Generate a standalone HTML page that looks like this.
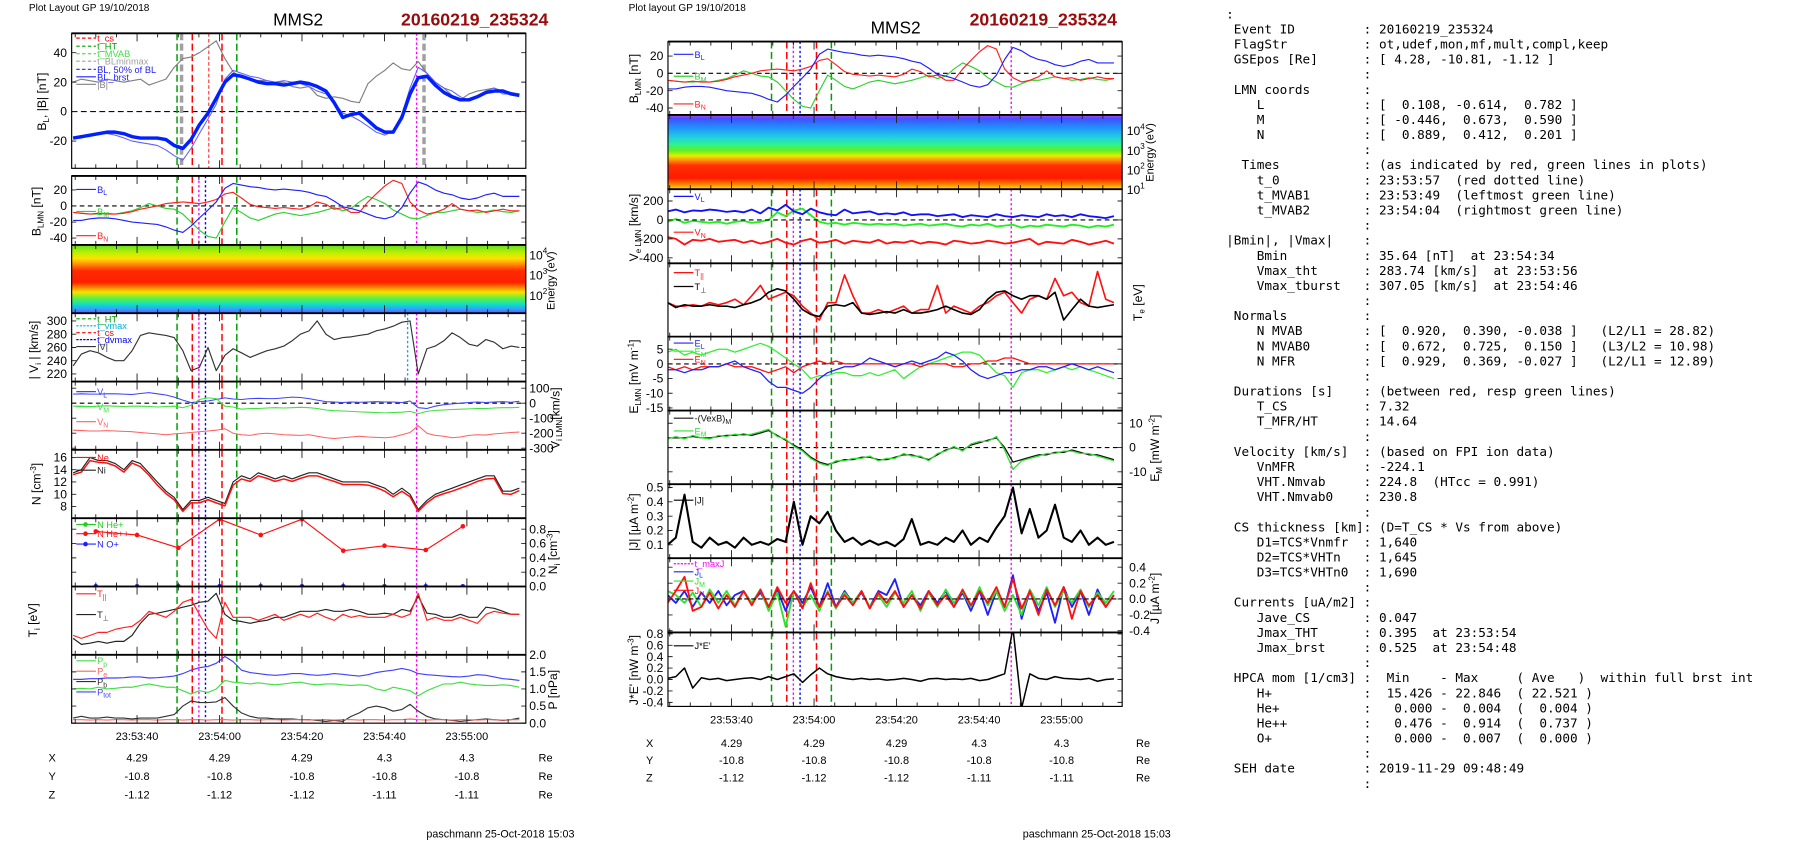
<!DOCTYPE html>
<html><head><meta charset="utf-8">
<style>html,body{margin:0;padding:0;background:#fff;overflow:hidden}svg{display:block}</style>
</head><body>
<svg id="fig" xmlns="http://www.w3.org/2000/svg" width="1804" height="841" viewBox="0 0 1561 728" preserveAspectRatio="none" font-family="'Liberation Sans', sans-serif">
<defs>
<linearGradient id="gradIon" x1="0" y1="0" x2="0" y2="1">
<stop offset="0" stop-color="#60e020"/><stop offset="0.12" stop-color="#c0f000"/><stop offset="0.2" stop-color="#ffe000"/><stop offset="0.28" stop-color="#ff9000"/><stop offset="0.38" stop-color="#ff2a00"/><stop offset="0.55" stop-color="#ff2000"/><stop offset="0.62" stop-color="#ff8000"/><stop offset="0.69" stop-color="#ffe000"/><stop offset="0.78" stop-color="#60f040"/><stop offset="0.87" stop-color="#10e0c0"/><stop offset="0.94" stop-color="#30a0ff"/><stop offset="1" stop-color="#7050ff"/>
</linearGradient>
<linearGradient id="gradEle" x1="0" y1="0" x2="0" y2="1">
<stop offset="0" stop-color="#c040f0"/><stop offset="0.05" stop-color="#4050ff"/><stop offset="0.17" stop-color="#2090ff"/><stop offset="0.3" stop-color="#20d0e0"/><stop offset="0.4" stop-color="#30f090"/><stop offset="0.48" stop-color="#60f020"/><stop offset="0.55" stop-color="#e0f000"/><stop offset="0.6" stop-color="#ffa000"/><stop offset="0.68" stop-color="#ff3000"/><stop offset="0.85" stop-color="#ff1a00"/><stop offset="0.93" stop-color="#ff8000"/><stop offset="1" stop-color="#ffe000"/>
</linearGradient>
</defs>
<g id="left"></g>
<g id="mid"></g>
<g id="info"></g>
</svg>
<script>
// ---------- shared time grid (seconds after 23:53:00) ----------
const tL = [24.5,26.5,28.6,30.6,32.7,34.7,36.8,38.8,40.8,42.9,44.9,47.0,49.0,51.1,53.1,55.1,57.2,59.2,61.3,63.3,65.3,67.4,69.4,71.5,73.5,75.6,77.6,79.6,81.7,83.7,85.8,87.8,89.9,91.9,93.9,96.0,98.0,100.1,102.1,104.2,106.2,108.2,110.3,112.3,114.4,116.4,118.4,120.5,122.5,124.6,126.6,128.7,130.7,132.7];
// event times
const tGreen = [49.7, 64.2];
const tRed = [53.4, 60.6];
const tMag = [55.0, 107.8];
const tBlue = [56.6];
const tGray = [50.8, 109.6];
const tCyan = [105.6];
const tCs0 = [57.4];
// x axis
const xTickTimes = [40, 60, 80, 100, 120];
const xTickLabels = ['23:53:40','23:54:00','23:54:20','23:54:40','23:55:00'];
const posX = ['4.29','4.29','4.29','4.3','4.3'];
const posY = ['-10.8','-10.8','-10.8','-10.8','-10.8'];
const posZ = ['-1.12','-1.12','-1.12','-1.11','-1.11'];
// left column series
const bLsmooth = [-18,-17,-16,-15,-14,-14,-15,-17,-18,-18,-18,-19,-23,-25,-19,-9,-1,9,20,25,24,22,20,19,19,18,19,20,19,17,14,6,-4,-2,-1,-6,-11,-14,-14,-4,12,23,24,18,13,10,8,8,10,13,14,14,12,11];
const bMag = [20,22,21,20,22,21,20,21,22,18,20,22,30,36,37,40,44,48,36,27,23,22,21,21,20,20,17,16,17,11,9,10,9,7,6,19,24,28,33,29,28,34,26,20,16,11,8,12,14,15,16,14,13,12];
const bL = [-18,-18,-16,-15,-15,-16,-18,-20,-21,-22,-23,-26,-30,-33,-25,-15,-5,5,22,28,26,24,23,21,20,21,20,19,17,14,12,6,-1,-3,-6,-10,-14,-16,-13,-2,16,30,26,20,16,14,10,8,10,14,16,12,12,12];
const bM = [-8,-9,-10,-10,-9,-10,-8,-6,-2,3,0,-3,-4,-10,-20,-30,-38,-40,-20,-2,-8,-15,-18,-14,-10,-8,-10,-12,-10,-8,-5,-2,-6,-3,5,12,8,3,-5,-10,-15,-16,-12,-8,-8,-6,-4,-6,-8,-7,-5,-7,-8,-6];
const bN = [-8,-9,-10,-9,-10,-10,-9,-7,-4,-2,0,3,4,5,4,3,5,8,15,17,10,2,-1,-2,-3,-2,-3,-4,-1,5,2,-4,-2,-8,-8,5,15,25,32,28,5,-5,-10,-8,-4,3,-4,-6,-5,-8,-6,-4,-6,-6];
const vMag = [232,250,255,252,245,240,240,255,278,282,280,278,275,255,225,230,260,225,248,258,252,245,250,255,258,262,270,280,285,300,280,272,275,276,278,280,285,288,292,298,300,220,258,262,270,282,275,265,262,272,268,258,262,260];
const viL = [60,62,60,60,62,62,60,58,65,70,62,55,40,20,5,10,15,25,35,28,25,30,32,30,30,35,40,38,30,20,10,8,5,8,6,8,10,8,8,5,15,-30,-35,-20,-10,-5,0,5,8,5,8,10,6,12];
const viM = [-20,-20,-22,-20,-18,-20,-22,-20,-20,-22,-25,-22,-20,-30,-15,25,35,30,-20,-25,-40,-35,-35,-32,-30,-32,-30,-28,-30,-35,-45,-50,-52,-55,-58,-60,-62,-65,-62,-60,-55,-70,-55,-48,-45,-42,-40,-38,-35,-35,-32,-30,-30,-28];
const viN = [-180,-182,-185,-185,-183,-185,-188,-190,-195,-200,-205,-210,-205,-200,-195,-190,-185,-180,-170,-200,-210,-215,-205,-200,-205,-210,-212,-215,-210,-220,-230,-235,-230,-225,-220,-225,-228,-230,-225,-210,-195,-150,-200,-215,-220,-230,-225,-215,-210,-212,-205,-200,-195,-192];
const nI = [13.5,14,16,15.5,15.5,15,14,15.5,15,13.5,12,10.5,9.5,7.5,9,9,9.5,9,8.5,12,13,12.5,13.5,13,12.5,13,12.5,13,13.5,13.5,13,12.5,12,12,12,12,11.5,11,10,11,10,7.5,9,10,10.5,11,11.5,12,12.5,13,13,10.5,10.5,11];
const nE = [13.2,13.6,15.5,15.2,15.1,14.6,13.6,15.1,14.5,13.1,11.5,10.1,9.1,7.2,8.6,8.6,9.1,8.6,8.1,11.5,12.5,12.1,13.0,12.6,12.1,12.5,12.1,12.6,13.0,13.0,12.5,12.1,11.6,11.6,11.6,11.5,11.1,10.5,9.6,10.5,9.6,7.2,8.6,9.6,10.1,10.5,11.0,11.5,12.1,12.5,12.6,10.1,10.0,10.6];
const tNi = [30,40,50,60,70,80,90,100,110,119];
const niHepp = [0.77,0.72,0.54,0.94,0.72,0.94,0.50,0.57,0.51,0.84];
const niHep = [0.004,0.004,0.004,0.004,0.004,0.004,0.004,0.004,0.004,0.004];
const niOp = [0.003,0.003,0.004,0.003,0.003,0.004,0.003,0.003,0.004,0.003];
const tiPar = [0.25,0.2,0.25,0.3,0.3,0.35,0.38,0.4,0.5,0.65,0.6,0.55,0.65,0.8,0.85,0.6,0.35,0.2,0.8,0.55,0.55,0.55,0.5,0.55,0.6,0.5,0.55,0.6,0.55,0.62,0.55,0.5,0.6,0.55,0.58,0.55,0.55,0.55,0.6,0.55,0.6,0.95,0.5,0.55,0.5,0.5,0.55,0.5,0.45,0.6,0.65,0.62,0.6,0.6];
const tiPerp = [0.2,0.1,0.12,0.15,0.12,0.15,0.15,0.25,0.45,0.6,0.62,0.65,0.68,0.72,0.75,0.8,0.82,0.95,0.6,0.5,0.48,0.45,0.48,0.5,0.55,0.55,0.6,0.65,0.65,0.65,0.68,0.65,0.65,0.68,0.65,0.6,0.6,0.62,0.6,0.68,0.65,0.9,0.62,0.6,0.55,0.55,0.6,0.55,0.55,0.72,0.7,0.65,0.6,0.6];
const pTot = [1.28,1.28,1.3,1.3,1.32,1.32,1.33,1.35,1.35,1.32,1.33,1.35,1.38,1.45,1.55,1.62,1.66,1.75,1.95,1.8,1.55,1.48,1.45,1.42,1.4,1.42,1.45,1.45,1.42,1.4,1.42,1.45,1.43,1.4,1.38,1.42,1.48,1.52,1.55,1.6,1.55,1.45,1.42,1.4,1.38,1.36,1.35,1.38,1.42,1.4,1.35,1.3,1.28,1.25];
const pI = [1.0,1.02,1.0,1.05,1.0,1.02,1.05,1.05,1.1,1.15,1.1,1.05,1.05,0.95,0.85,0.95,0.9,1.0,1.25,1.2,1.18,1.15,1.18,1.15,1.12,1.15,1.18,1.2,1.15,1.12,1.15,1.15,1.12,1.1,1.12,1.1,1.0,0.95,1.05,1.0,0.95,0.8,0.95,1.05,1.15,1.15,1.2,1.15,1.12,1.1,1.1,1.12,1.1,1.05];
const pB = [0.15,0.2,0.15,0.15,0.18,0.15,0.15,0.12,0.15,0.15,0.15,0.2,0.25,0.5,0.65,0.6,0.6,0.62,0.75,0.5,0.3,0.2,0.15,0.15,0.12,0.12,0.12,0.1,0.1,0.08,0.05,0.08,0.05,0.2,0.3,0.45,0.5,0.45,0.35,0.4,0.55,0.35,0.2,0.12,0.1,0.08,0.05,0.08,0.1,0.12,0.1,0.08,0.1,0.15];
const pE = [0.1,0.1,0.09,0.1,0.09,0.1,0.1,0.09,0.1,0.1,0.09,0.1,0.1,0.09,0.1,0.1,0.09,0.1,0.1,0.09,0.1,0.1,0.09,0.1,0.1,0.09,0.1,0.1,0.09,0.1,0.1,0.09,0.1,0.1,0.09,0.1,0.1,0.09,0.1,0.1,0.12,0.1,0.09,0.1,0.1,0.09,0.1,0.1,0.09,0.1,0.1,0.09,0.1,0.1];
// middle column series
const veL = [90,110,80,100,95,110,100,85,95,80,110,70,130,100,160,90,60,120,80,60,50,110,70,80,90,60,70,60,80,50,60,60,40,50,60,30,50,40,30,60,40,30,50,40,30,60,40,50,30,60,40,30,20,40];
const veM = [-20,10,-30,-10,-20,-30,-20,-40,-20,-10,-30,-20,0,80,40,100,120,50,-20,-40,-30,-50,-30,-40,-50,-40,-50,-40,-60,-50,-40,-60,-50,-40,-60,-70,-50,-60,-40,-70,-60,-50,-80,-60,-70,-50,-60,-70,-50,-60,-80,-60,-70,-50];
const veN = [-180,-200,-260,-210,-220,-200,-230,-220,-210,-240,-220,-250,-230,-200,-240,-260,-220,-200,-240,-230,-210,-250,-220,-230,-240,-210,-250,-230,-240,-220,-250,-230,-240,-260,-220,-230,-250,-240,-220,-230,-250,-240,-220,-200,-260,-230,-240,-250,-210,-230,-260,-240,-220,-250];
const tePerp = [0.45,0.38,0.42,0.4,0.4,0.42,0.4,0.4,0.38,0.42,0.45,0.5,0.6,0.65,0.62,0.5,0.35,0.28,0.25,0.4,0.42,0.4,0.45,0.3,0.28,0.3,0.32,0.3,0.35,0.3,0.3,0.32,0.35,0.4,0.35,0.3,0.28,0.35,0.5,0.6,0.62,0.55,0.5,0.55,0.55,0.5,0.6,0.2,0.35,0.5,0.4,0.38,0.4,0.42];
const tePar = [0.45,0.4,0.4,0.42,0.4,0.45,0.42,0.45,0.5,0.42,0.55,0.7,0.5,0.55,0.6,0.55,0.4,0.3,0.2,0.45,0.45,0.85,0.55,0.3,0.3,0.35,0.3,0.35,0.4,0.3,0.35,0.35,0.7,0.3,0.4,0.35,0.3,0.4,0.45,0.55,0.6,0.45,0.3,0.5,0.55,0.5,0.8,0.55,0.6,0.45,0.4,0.9,0.5,0.45];
const eL = [-2,-2,-3,-2,-2,-1,-1,0,1,-1,-2,-3,-6,-8,-8,-9,-10,-8,-5,-3,-2,-1,-1,0,2,1,0,-1,0,1,0,1,2,4,3,1,-2,-4,-5,-4,-3,-3,-2,-2,-1,-1,-2,-1,0,-1,-2,-1,-2,-3];
const eM = [4,5,3,4,3,4,5,5,4,5,6,7,6,4,2,0,-2,-5,-4,-4,-3,-3,-4,-4,-3,-4,-3,-2,-5,-3,-1,0,1,2,3,4,4,3,0,-3,-4,-8,-3,-2,-2,-3,-2,-1,-2,-1,-2,-3,-4,-5];
const eN = [-1,-2,-1,-2,-1,-1,-1,0,-1,-1,-1,-2,-3,-2,-1,-3,-1,0,1,0,1,0,0,0,0,0,0,0,0,0,-1,0,0,0,-1,-1,0,0,1,1,2,2,1,0,0,0,0,0,0,0,0,0,0,0];
const emVxB = [4,4,4,4.5,4,4,4.5,5,5,5.5,5,6,7,5,3,1,-1,-4,-6,-7,-6,-5,-5,-4,-4,-5,-5,-4,-3,-3,-4,-5,-3,-1,0,-1,1,2,3,4,0,-6,-5,-4,-3,-3,-2,-2,-1,-2,-3,-3,-4,-5];
const emE = [3.5,4.5,3.5,5,4,3.5,5,4.5,5.5,5,5.5,6.5,7.5,4.5,3.5,0.5,-1.5,-4.5,-6.5,-7.5,-5.5,-5.5,-4.5,-4.5,-3.5,-5.5,-4.5,-4.5,-2.5,-3.5,-3.5,-5.5,-2.5,-1.5,0.5,-1.5,1.5,2.5,2.5,4.5,-1,-9,-5.5,-4.5,-3.5,-2.5,-2.5,-1.5,-1.5,-2.5,-2.5,-3.5,-4.5,-5.5];
const jMag = [0.1,0.15,0.45,0.12,0.08,0.15,0.1,0.12,0.08,0.15,0.1,0.12,0.1,0.14,0.12,0.4,0.1,0.3,0.25,0.33,0.2,0.12,0.15,0.1,0.13,0.1,0.12,0.09,0.14,0.28,0.1,0.12,0.1,0.15,0.12,0.2,0.1,0.15,0.12,0.22,0.3,0.5,0.18,0.35,0.15,0.2,0.38,0.15,0.12,0.2,0.1,0.15,0.1,0.12];
const jL = [0.05,-0.05,0.1,-0.1,0.08,-0.05,0.1,-0.08,0.05,0.1,-0.05,0.08,-0.1,0.12,-0.15,0.1,-0.05,0.15,-0.1,0.2,-0.1,0.1,-0.05,0.08,-0.1,0.1,0.05,0.25,-0.1,0.05,-0.08,0.1,-0.05,0.1,-0.1,0.08,-0.15,0.1,-0.2,0.1,-0.1,0.3,-0.25,0.1,-0.15,0.08,-0.3,0.15,-0.1,0.1,-0.2,0.12,-0.1,0.05];
const jM = [0.1,0.05,-0.05,0.08,-0.1,0.12,-0.05,0.1,-0.08,0.1,-0.05,0.12,-0.15,0.08,-0.35,0.1,-0.1,0.05,-0.15,0.1,-0.12,0.08,-0.05,0.1,-0.1,0.05,-0.1,0.08,-0.05,0.1,-0.15,0.08,-0.1,0.12,-0.05,0.1,-0.1,0.15,-0.08,0.1,-0.15,0.05,-0.2,0.12,-0.08,0.15,-0.1,0.1,-0.05,0.12,-0.1,0.08,-0.05,0.1];
const jN = [-0.05,0.1,0.28,-0.15,-0.1,0.08,-0.12,0.05,-0.1,0.1,-0.08,0.12,-0.1,0.15,-0.05,0.1,-0.12,0.2,-0.1,0.08,-0.1,0.05,-0.08,0.1,-0.12,0.08,-0.05,0.1,-0.1,0.05,-0.12,0.1,-0.08,0.05,-0.1,0.12,-0.08,0.1,-0.05,0.15,-0.1,0.25,-0.12,0.1,-0.2,0.12,-0.08,0.15,-0.25,0.1,-0.08,0.05,-0.1,0.05];
const jE = [0.02,0.05,0.2,-0.15,0.03,0.0,0.02,-0.02,0.0,0.02,0.03,0.0,0.05,0.0,0.05,0.1,-0.05,0.08,0.2,0.1,0.05,0.02,0.0,0.02,0.0,0.01,-0.01,0.0,0.02,0.0,-0.03,0.01,0.02,0.0,0.01,0.0,0.02,-0.02,0.0,0.05,0.1,0.9,-0.5,0.1,0.02,0.0,0.05,0.02,0.01,0.0,0.02,-0.03,0.0,0.01];
// tick label arrays
const tkP1 = [40,20,0,-20], tkP2 = [20,0,-20,-40], tkP4 = [300,280,260,240,220], tkP5 = [100,0,-100,-200,-300];
const tkP6 = [16,14,12,10,8], tkP7 = [0.8,0.6,0.4,0.2,0.0], tkP9 = [2.0,1.5,1.0,0.5,0.0];
const tkSpecL = [4,3,2], tkSpecM = [4,3,2,1];
const tkM1 = [20,0,-20,-40], tkM3 = [200,0,-200,-400], tkM5 = [5,0,-5,-10,-15], tkM6 = [10,0,-10];
const tkM7 = [0.5,0.4,0.3,0.2,0.1], tkM8 = [0.4,0.2,0.0,-0.2,-0.4], tkM9 = [0.8,0.6,0.4,0.2,0.0,-0.2,-0.4];

// ---------- helpers ----------
const NS = 'http://www.w3.org/2000/svg';
function mk(tag, parent, name, attrs, text) {
  const e = document.createElementNS(NS, tag);
  for (const k in attrs) e.setAttribute(k, attrs[k]);
  
  
  if (text !== undefined) e.textContent = text;
  parent.appendChild(e);
  return e;
}
const xL = t => 118.6 + (t - 40) * 3.568;
const xM = t => 633 + (t - 40) * 3.57;
const lin = (z, k) => v => z - v * k;
let clipN = 0;
function panel(g, name, x0, x1, y0, y1, xf) {
  const pg = mk('g', g, name, {});
  const id = 'clip' + (clipN++);
  const cp = mk('clipPath', pg, name + '-clip', {id: id});
  mk('rect', cp, name + '-clip-rect', {x: x0, y: y0, width: x1 - x0, height: y1 - y0});
  const inner = mk('g', pg, name + '-plot-area', {'clip-path': 'url(#' + id + ')'});
  return {g: pg, inner: inner, x0: x0, x1: x1, y0: y0, y1: y1, xf: xf, name: name};
}
function finish(p, yTickYs) {
  let d = '';
  for (let t = 25; t <= 135; t += 5) {
    const x = p.xf(t);
    if (x <= p.x0 || x >= p.x1) continue;
    const L = (t % 20 === 0) ? 7 : 3.5;
    d += 'M' + x.toFixed(1) + ',' + p.y0 + 'v' + L + 'M' + x.toFixed(1) + ',' + p.y1 + 'v' + (-L);
  }
  (yTickYs || []).forEach(y => { d += 'M' + p.x0 + ',' + y.toFixed(1) + 'h4M' + p.x1 + ',' + y.toFixed(1) + 'h-4'; });
  mk('path', p.g, p.name + '-ticks', {d: d, stroke: '#222', 'stroke-width': 0.8, fill: 'none'});
  mk('rect', p.g, p.name + '-frame', {x: p.x0, y: p.y0, width: p.x1 - p.x0, height: p.y1 - p.y0, fill: 'none', stroke: '#000', 'stroke-width': 1});
  mk('line', p.g, p.name + '-top-border', {x1: p.x0, x2: p.x1, y1: p.y0, y2: p.y0, stroke: '#000', 'stroke-width': 1.6});
}
function series(p, name, ts, vs, yf, color, w, dash) {
  let d = '';
  ts.forEach((t, i) => { d += (i ? 'L' : 'M') + p.xf(t).toFixed(1) + ',' + yf(vs[i]).toFixed(1); });
  mk('path', p.inner, name, {d: d, fill: 'none', stroke: color, 'stroke-width': w, 'stroke-linejoin': 'round', 'stroke-dasharray': dash || 'none'});
}
function markers(p, name, ts, vs, yf, color) {
  ts.forEach((t, i) => {
    mk('circle', p.inner, name, {cx: p.xf(t).toFixed(1), cy: yf(vs[i]).toFixed(1), r: 2, fill: color});
  });
}
function vlines(p, name, times, color, dash, w) {
  times.forEach(t => {
    const x = p.xf(t).toFixed(1);
    mk('line', p.inner, name, {x1: x, x2: x, y1: p.y0, y2: p.y1, stroke: color, 'stroke-width': w || 1, 'stroke-dasharray': dash});
  });
}
function hzero(p, name, y, color, dash) {
  mk('line', p.inner, name, {x1: p.x0, x2: p.x1, y1: y, y2: y, stroke: color, 'stroke-width': 1, 'stroke-dasharray': dash});
}
function leg(p, name, x, y, color, label, sub, dash, dot) {
  const g = mk('g', p.g, name, {});
  mk('line', g, name + '-line', {x1: x, x2: x + 17, y1: y, y2: y, stroke: color, 'stroke-width': 1, 'stroke-dasharray': dash || 'none'});
  if (dot) mk('circle', g, name + '-marker', {cx: x + 8, cy: y, r: 2, fill: color});
  const t = mk('text', g, name + '-label', {x: x + 18, y: y + 3, 'font-size': 8, fill: color});
  mk('tspan', t, name + '-text', {}, label);
  if (sub) mk('tspan', t, name + '-sub', {'font-size': 6, dy: 2}, sub);
}
function yTicks(g, name, vals, yf, x, anchor, fmt) {
  vals.forEach(v => {
    mk('text', g, name, {x: x, y: (yf(v) + 3.6).toFixed(1), 'font-size': 10.5, 'text-anchor': anchor}, fmt ? fmt(v) : String(v));
  });
}
function powTicks(g, name, exps, yf, x) {
  exps.forEach(e => {
    const t = mk('text', g, name, {x: x, y: (yf(e) + 4).toFixed(1), 'font-size': 10.5});
    mk('tspan', t, name + '-base', {}, '10');
    mk('tspan', t, name + '-exp', {'font-size': 7, dy: -5}, String(e));
  });
}
function rlabel(g, name, x, y, parts, size) {
  const t = mk('text', g, name, {transform: 'translate(' + x + ',' + y + ') rotate(-90)', 'text-anchor': 'middle', 'font-size': size || 10.5});
  let off = 0;
  parts.forEach(pt => {
    const s = pt[0], k = pt[1] || 'n';
    let target = k === 'sub' ? 2.5 : (k === 'sup' ? -4 : 0);
    const a = {dy: target - off};
    if (k !== 'n') a['font-size'] = 7;
    mk('tspan', t, name + '-part', a, s);
    off = target;
  });
}
const f1 = v => v.toFixed(1);

// ================= LEFT COLUMN =================
const G = document.getElementById('left');
mk('text', G, 'left-layout-caption', {x: 25, y: 9.5, 'font-size': 8.7}, 'Plot Layout GP 19/10/2018');
mk('text', G, 'left-spacecraft-title', {x: 258, y: 22, 'font-size': 15, 'text-anchor': 'middle'}, 'MMS2');
mk('text', G, 'left-event-title', {x: 347, y: 22, 'font-size': 15.3, 'font-weight': 'bold', fill: '#9b0a0a'}, '20160219_235324');
const LX0 = 62, LX1 = 455;

// P1 BL, |B|
const y1 = lin(96.6, 1.275);
let p = panel(G, 'bl-b-panel', LX0, LX1, 28.8, 145.7, xL);
hzero(p, 'bl-zero-line', y1(0), '#000060', '5,3');
vlines(p, 'tcs-line', tCs0, '#ff0000', '3,2', 0.8);
vlines(p, 'ht-line', tGreen, '#00a000', '6,3', 1.3);
vlines(p, 'cs-line', tRed, '#ff0000', '6,3', 1.3);
vlines(p, 'bl-minmax-line', tGray, '#a0a0a0', '6,3', 3);
vlines(p, 'maxj-line', [tMag[1]], '#ff00ff', '2,2', 1.2);
series(p, 'b-magnitude-line', tL, bMag, y1, '#808080', 1);
series(p, 'bl-brst-line', tL, bL, y1, '#6060ff', 0.9);
series(p, 'bl-smooth-line', tL, bLsmooth, y1, '#0020ff', 3);
finish(p, tkP1.map(y1));
yTicks(G, 'bl-tick-label', tkP1, y1, 58, 'end');
rlabel(G, 'bl-y-axis-title', 40, 88, [['B'], ['L', 'sub'], [', |B| [nT]']]);
leg(p, 'legend-t-cs', 66, 33, '#ff0000', 't_cs', '', '3,2');
leg(p, 'legend-t-ht', 66, 40, '#00a000', 't_HT', '', '3,2');
leg(p, 'legend-t-mvab', 66, 46.5, '#40e040', 't_MVAB', '', '3,2');
leg(p, 'legend-t-blminmax', 66, 53, '#a0a0a0', 't_BLminmax', '', '3,2');
leg(p, 'legend-bl-50', 66, 60, '#2020ff', 'BL, 50% of BL', '', '3,2');
leg(p, 'legend-bl-brst', 66, 66.5, '#2020ff', 'BL_brst', '');
leg(p, 'legend-b-mag', 66, 73, '#808080', '|B|', '');

// P2 BLMN
const y2 = lin(178.3, 0.695);
p = panel(G, 'blmn-panel', LX0, LX1, 152.3, 212, xL);
hzero(p, 'blmn-zero-line', y2(0), '#000', '4,3');
vlines(p, 'ht-line', tGreen, '#00a000', '6,3', 1.3);
vlines(p, 'cs-line', tRed, '#ff0000', '6,3', 1.3);
vlines(p, 'maxj-line', tMag, '#ff00ff', '2,2', 1.2);
vlines(p, 'dvmax-line', tBlue, '#0000ff', '2,2', 1.2);
series(p, 'bm-line', tL, bM, y2, '#30d030', 1);
series(p, 'bn-line', tL, bN, y2, '#ff2020', 1);
series(p, 'bl-line', tL, bL, y2, '#2020ff', 1);
finish(p, tkP2.map(y2));
yTicks(G, 'blmn-tick-label', tkP2, y2, 58, 'end');
rlabel(G, 'blmn-y-axis-title', 35, 183, [['B'], ['LMN', 'sub'], [' [nT]']]);
leg(p, 'legend-bl', 66, 164, '#2020ff', 'B', 'L');
leg(p, 'legend-bm', 66, 183, '#30d030', 'B', 'M');
leg(p, 'legend-bn', 66, 204, '#ff2020', 'B', 'N');

// Ion spectrogram
p = panel(G, 'ion-spectrogram-panel', LX0, LX1, 212, 271.1, xL);
mk('rect', p.inner, 'ion-energy-spectrogram', {x: LX0, y: 212, width: LX1 - LX0, height: 59.1, fill: 'url(#gradIon)'});
finish(p, []);
const ySL = e => 290.5 - e * 17.5;
powTicks(G, 'ion-energy-tick', tkSpecL, ySL, 458);
rlabel(G, 'ion-energy-axis-title', 480, 243, [['Energy (eV)']], 9.5);

// P4 |Vi|
const y4 = v => 277.8 - (v - 300) * 0.574;
p = panel(G, 'vi-magnitude-panel', LX0, LX1, 271.1, 330.3, xL);
vlines(p, 'ht-line', tGreen, '#00a000', '6,3', 1.3);
vlines(p, 'cs-line', tRed, '#ff0000', '6,3', 1.3);
vlines(p, 'maxj-line', tMag, '#ff00ff', '2,2', 1.2);
vlines(p, 'dvmax-line', tBlue, '#0000ff', '2,2', 1.2);
vlines(p, 'vmax-line', tCyan, '#00b0e0', '2,2', 1.2);
series(p, 'vi-magnitude-line', tL, vMag, y4, '#333', 1);
finish(p, tkP4.map(y4));
yTicks(G, 'vi-tick-label', tkP4, y4, 58, 'end');
rlabel(G, 'vi-y-axis-title', 33, 303, [['| V'], ['i', 'sub'], [' | [km/s]']]);
leg(p, 'legend-ht', 66, 276, '#00a000', 't_HT', '', '3,2');
leg(p, 'legend-vmax', 66, 282, '#00b0e0', 't_vmax', '', '2,1');
leg(p, 'legend-cs', 66, 288, '#ff0000', 't_cs', '', '3,2');
leg(p, 'legend-dvmax', 66, 294, '#0000ff', 't_dvmax', '', '2,1');
leg(p, 'legend-v', 66, 300, '#333', '|V|', '');

// P5 Vi LMN
const y5 = lin(349, 0.13);
p = panel(G, 'vi-lmn-panel', LX0, LX1, 330.3, 389.4, xL);
hzero(p, 'vi-zero-line', y5(0), '#000', '4,3');
vlines(p, 'ht-line', tGreen, '#00a000', '6,3', 1.3);
vlines(p, 'cs-line', tRed, '#ff0000', '6,3', 1.3);
vlines(p, 'maxj-line', tMag, '#ff00ff', '2,2', 1.2);
vlines(p, 'dvmax-line', tBlue, '#0000ff', '2,2', 1.2);
series(p, 'vi-l-line', tL, viL, y5, '#4040ff', 0.9);
series(p, 'vi-m-line', tL, viM, y5, '#40e040', 0.9);
series(p, 'vi-n-line', tL, viN, y5, '#ff6060', 0.9);
finish(p, tkP5.map(y5));
yTicks(G, 'vi-lmn-tick-label', tkP5, y5, 458, 'start');
rlabel(G, 'vi-lmn-y-axis-title', 484, 362, [['V'], ['i LMN', 'sub'], ['[km/s]']]);
leg(p, 'legend-vl', 66, 339, '#4040ff', 'V', 'L');
leg(p, 'legend-vm', 66, 352, '#40e040', 'V', 'M');
leg(p, 'legend-vn', 66, 365, '#ff6060', 'V', 'N');

// P6 N
const y6 = v => 396 - (v - 16) * 5.31;
p = panel(G, 'density-panel', LX0, LX1, 389.4, 448.6, xL);
vlines(p, 'ht-line', tGreen, '#00a000', '6,3', 1.3);
vlines(p, 'cs-line', tRed, '#ff0000', '6,3', 1.3);
vlines(p, 'maxj-line', tMag, '#ff00ff', '2,2', 1.2);
vlines(p, 'dvmax-line', tBlue, '#0000ff', '2,2', 1.2);
series(p, 'ni-line', tL, nI, y6, '#222', 1);
series(p, 'ne-line', tL, nE, y6, '#ff1010', 1.3);
finish(p, tkP6.map(y6));
yTicks(G, 'density-tick-label', tkP6, y6, 58, 'end');
rlabel(G, 'density-y-axis-title', 35, 419, [['N [cm'], ['-3', 'sup'], [']']]);
leg(p, 'legend-ne', 66, 396, '#ff1010', 'Ne', '');
leg(p, 'legend-ni', 66, 407, '#222', 'Ni', '');

// P7 HPCA Ni
const y7 = lin(507.7, 62);
p = panel(G, 'hpca-density-panel', LX0, LX1, 448.6, 507.7, xL);
vlines(p, 'ht-line', tGreen, '#00a000', '6,3', 1.3);
vlines(p, 'cs-line', tRed, '#ff0000', '6,3', 1.3);
vlines(p, 'maxj-line', tMag, '#ff00ff', '2,2', 1.2);
vlines(p, 'dvmax-line', tBlue, '#0000ff', '2,2', 1.2);
series(p, 'n-hepp-line', tNi, niHepp, y7, '#ff1010', 1);
markers(p, 'n-hepp-point', tNi, niHepp, y7, '#ff1010');
series(p, 'n-hep-line', tNi, niHep, y7, '#20d020', 1);
series(p, 'n-op-line', tNi, niOp, y7, '#2020ff', 1);
markers(p, 'n-op-point', tNi, niOp, y7, '#2020ff');
finish(p, tkP7.map(y7));
yTicks(G, 'hpca-tick-label', tkP7, y7, 458, 'start', f1);
rlabel(G, 'hpca-y-axis-title', 482, 478, [['N'], ['i', 'sub'], [' [cm'], ['-3', 'sup'], [']']]);
leg(p, 'legend-n-hep', 66, 454, '#20d020', 'N  He+', '', null, true);
leg(p, 'legend-n-hepp', 66, 462, '#ff1010', 'N  He++', '', null, true);
leg(p, 'legend-n-op', 66, 471, '#2020ff', 'N  O+', '', null, true);

// P8 Ti
const y8 = lin(563, 52);
p = panel(G, 'ion-temperature-panel', LX0, LX1, 507.7, 566.8, xL);
vlines(p, 'ht-line', tGreen, '#00a000', '6,3', 1.3);
vlines(p, 'cs-line', tRed, '#ff0000', '6,3', 1.3);
vlines(p, 'maxj-line', tMag, '#ff00ff', '2,2', 1.2);
vlines(p, 'dvmax-line', tBlue, '#0000ff', '2,2', 1.2);
series(p, 't-perp-line', tL, tiPerp, y8, '#222', 1);
series(p, 't-par-line', tL, tiPar, y8, '#ff2020', 1);
finish(p, []);
rlabel(G, 'ti-y-axis-title', 32, 537, [['T'], ['i', 'sub'], [' [eV]']]);
leg(p, 'legend-t-par', 66, 514, '#ff2020', 'T', '||');
leg(p, 'legend-t-perp', 66, 532, '#222', 'T', '⊥');

// P9 pressure
const y9 = lin(626, 29.6);
p = panel(G, 'pressure-panel', LX0, LX1, 566.8, 626, xL);
vlines(p, 'ht-line', tGreen, '#00a000', '6,3', 1.3);
vlines(p, 'cs-line', tRed, '#ff0000', '6,3', 1.3);
vlines(p, 'maxj-line', tMag, '#ff00ff', '2,2', 1.2);
vlines(p, 'dvmax-line', tBlue, '#0000ff', '2,2', 1.2);
series(p, 'p-tot-line', tL, pTot, y9, '#4040ff', 1);
series(p, 'p-p-line', tL, pI, y9, '#40e040', 1);
series(p, 'p-b-line', tL, pB, y9, '#333', 1);
series(p, 'p-e-line', tL, pE, y9, '#ff6060', 1);
finish(p, tkP9.map(y9));
yTicks(G, 'pressure-tick-label', tkP9, y9, 458, 'start', f1);
rlabel(G, 'pressure-y-axis-title', 482, 597, [['P [nPa]']]);
leg(p, 'legend-pp', 66, 572, '#40e040', 'P', 'p');
leg(p, 'legend-pe', 66, 581, '#ff6060', 'P', 'e');
leg(p, 'legend-pb', 66, 590, '#333', 'P', 'b');
leg(p, 'legend-ptot', 66, 599, '#4040ff', 'P', 'tot');

// left x axis + positions
xTickTimes.forEach((t, i) => {
  mk('text', G, 'x-tick-label', {x: xL(t).toFixed(1), y: 640.5, 'font-size': 9.5, 'text-anchor': 'middle'}, xTickLabels[i]);
  mk('text', G, 'pos-x-value', {x: xL(t).toFixed(1), y: 659, 'font-size': 9.5, 'text-anchor': 'middle'}, posX[i]);
  mk('text', G, 'pos-y-value', {x: xL(t).toFixed(1), y: 675, 'font-size': 9.5, 'text-anchor': 'middle'}, posY[i]);
  mk('text', G, 'pos-z-value', {x: xL(t).toFixed(1), y: 691, 'font-size': 9.5, 'text-anchor': 'middle'}, posZ[i]);
});
[['X', 659], ['Y', 675], ['Z', 691]].forEach(r => {
  mk('text', G, 'pos-row-label', {x: 42, y: r[1], 'font-size': 9.5}, r[0]);
  mk('text', G, 'pos-row-unit', {x: 466, y: r[1], 'font-size': 9.5}, 'Re');
});
mk('text', G, 'left-footer', {x: 369, y: 725, 'font-size': 9.3}, 'paschmann 25-Oct-2018 15:03');

// ================= MIDDLE COLUMN =================
const H = document.getElementById('mid');
mk('text', H, 'mid-layout-caption', {x: 544, y: 9.5, 'font-size': 8.7}, 'Plot layout GP 19/10/2018');
mk('text', H, 'mid-spacecraft-title', {x: 775, y: 29, 'font-size': 15, 'text-anchor': 'middle'}, 'MMS2');
mk('text', H, 'mid-event-title', {x: 839, y: 22, 'font-size': 15.3, 'font-weight': 'bold', fill: '#9b0a0a'}, '20160219_235324');
const MX0 = 578, MX1 = 971;
function evM(p) {
  vlines(p, 'ht-line', tGreen, '#00a000', '6,3', 1.3);
  vlines(p, 'cs-line', tRed, '#ff0000', '6,3', 1.3);
  vlines(p, 'maxj-line', tMag, '#ff00ff', '2,2', 1.2);
  vlines(p, 'dvmax-line', tBlue, '#0000ff', '2,2', 1.2);
}
// M1 BLMN
const m1 = lin(63.5, 0.75);
p = panel(H, 'mid-blmn-panel', MX0, MX1, 36, 99.5, xM);
hzero(p, 'blmn-zero-line', m1(0), '#000', '4,3');
evM(p);
series(p, 'bm-line', tL, bM, m1, '#30d030', 1);
series(p, 'bn-line', tL, bN, m1, '#ff2020', 1);
series(p, 'bl-line', tL, bL, m1, '#2020ff', 1);
finish(p, tkM1.map(m1));
yTicks(H, 'mid-blmn-tick-label', tkM1, m1, 574, 'end');
rlabel(H, 'mid-blmn-y-axis-title', 552, 68, [['B'], ['LMN', 'sub'], [' [nT]']]);
leg(p, 'legend-bl', 583, 47, '#2020ff', 'B', 'L');
leg(p, 'legend-bm', 583, 66, '#30d030', 'B', 'M');
leg(p, 'legend-bn', 583, 90, '#ff2020', 'B', 'N');
// electron spectrogram
p = panel(H, 'electron-spectrogram-panel', MX0, MX1, 99.5, 163.8, xM);
mk('rect', p.inner, 'electron-energy-spectrogram', {x: MX0, y: 99.5, width: MX1 - MX0, height: 64.3, fill: 'url(#gradEle)'});
finish(p, []);
const ySM = e => 181 - e * 17;
powTicks(H, 'electron-energy-tick', tkSpecM, ySM, 975);
rlabel(H, 'electron-energy-axis-title', 998, 132, [['Energy (eV)']], 9.5);
// M3 Ve
const m3 = lin(190.4, 0.082);
p = panel(H, 've-lmn-panel', MX0, MX1, 163.8, 227.9, xM);
evM(p);
series(p, 've-n-line', tL, veN, m3, '#ff1010', 1.6);
series(p, 've-m-line', tL, veM, m3, '#20f020', 1.6);
series(p, 've-l-line', tL, veL, m3, '#1010ff', 1.6);
hzero(p, 've-zero-line', m3(0), '#000', '4,3');
finish(p, tkM3.map(m3));
yTicks(H, 've-tick-label', tkM3, m3, 574, 'end');
rlabel(H, 've-y-axis-title', 552, 197, [['V'], ['e LMN', 'sub'], [' [km/s]']]);
leg(p, 'legend-vl', 583, 170, '#1010ff', 'V', 'L');
leg(p, 'legend-vn', 583, 201, '#ff1010', 'V', 'N');
// M4 Te
const m4 = lin(289, 60);
p = panel(H, 'te-panel', MX0, MX1, 227.9, 291.4, xM);
evM(p);
series(p, 'te-par-line', tL, tePar, m4, '#ff1010', 1.4);
series(p, 'te-perp-line', tL, tePerp, m4, '#000', 1.4);
finish(p, []);
rlabel(H, 'te-y-axis-title', 988, 262, [['T'], ['e', 'sub'], [' [eV]']]);
leg(p, 'legend-te-par', 583, 236, '#ff1010', 'T', '||');
leg(p, 'legend-te-perp', 583, 248, '#000', 'T', '⊥');
// M5 E LMN
const m5 = lin(315, 2.54);
p = panel(H, 'e-lmn-panel', MX0, MX1, 291.4, 355.4, xM);
hzero(p, 'e-zero-line', m5(0), '#000', '4,3');
evM(p);
series(p, 'e-m-line', tL, eM, m5, '#30f030', 1.1);
series(p, 'e-n-line', tL, eN, m5, '#ff1010', 1.1);
series(p, 'e-l-line', tL, eL, m5, '#2020ff', 1.1);
finish(p, tkM5.map(m5));
yTicks(H, 'e-tick-label', tkM5, m5, 574, 'end');
rlabel(H, 'e-y-axis-title', 552, 326, [['E'], ['LMN', 'sub'], ['  [mV m'], ['-1', 'sup'], [']']]);
leg(p, 'legend-el', 583, 297, '#2020ff', 'E', 'L');
leg(p, 'legend-em', 583, 304, '#30f030', 'E', 'M');
leg(p, 'legend-en', 583, 311, '#ff1010', 'E', 'N');
// M6 E_M
const m6 = lin(387.4, 2.1);
p = panel(H, 'em-panel', MX0, MX1, 355.4, 419.1, xM);
hzero(p, 'em-zero-line', m6(0), '#000', '4,3');
evM(p);
series(p, 'vexb-m-line', tL, emVxB, m6, '#111', 1.1);
series(p, 'e-m-line', tL, emE, m6, '#30e030', 1.1);
finish(p, tkM6.map(m6));
yTicks(H, 'em-tick-label', tkM6, m6, 977, 'start');
rlabel(H, 'em-y-axis-title', 1003, 388, [['E'], ['M', 'sub'], [' [mW m'], ['-2', 'sup'], [']']]);
leg(p, 'legend-vexb', 583, 362, '#111', '-(VexB)', 'M');
leg(p, 'legend-em', 583, 373, '#30e030', 'E', 'M');
// M7 |J|
const m7 = lin(484, 124);
p = panel(H, 'j-magnitude-panel', MX0, MX1, 419.1, 483.2, xM);
evM(p);
series(p, 'j-magnitude-line', tL, jMag, m7, '#000', 1.8);
finish(p, tkM7.map(m7));
yTicks(H, 'j-magnitude-tick-label', tkM7, m7, 574, 'end', f1);
rlabel(H, 'j-magnitude-y-axis-title', 552, 452, [['|J| [µA m'], ['-2', 'sup'], [']']]);
leg(p, 'legend-j-mag', 583, 433, '#000', '|J|', '');
// M8 J LMN
const m8 = lin(518.5, 68.75);
p = panel(H, 'j-lmn-panel', MX0, MX1, 483.2, 547.5, xM);
evM(p);
series(p, 'j-l-line', tL, jL, m8, '#2020ff', 1.6);
series(p, 'j-m-line', tL, jM, m8, '#30e030', 1.6);
series(p, 'j-n-line', tL, jN, m8, '#ff1010', 1.6);
hzero(p, 'j-zero-line', m8(0), '#000', '4,2');
finish(p, tkM8.map(m8));
yTicks(H, 'j-lmn-tick-label', tkM8, m8, 977, 'start', f1);
rlabel(H, 'j-lmn-y-axis-title', 1003, 518, [['J [µA m'], ['-2', 'sup'], [']']]);
leg(p, 'legend-t-maxj', 583, 488, '#ff00ff', 't_maxJ', '', '2,1');
leg(p, 'legend-jl', 583, 495, '#2020ff', 'J', 'L');
leg(p, 'legend-jm', 583, 503, '#30e030', 'J', 'M');
leg(p, 'legend-jn', 583, 511, '#ff1010', 'J', 'N');
// M9 J*E'
const m9 = lin(588.2, 49.4);
p = panel(H, 'je-panel', MX0, MX1, 547.5, 611.5, xM);
evM(p);
series(p, 'je-line', tL, jE, m9, '#000', 1.3);
finish(p, tkM9.map(m9));
yTicks(H, 'je-tick-label', tkM9, m9, 574, 'end', f1);
rlabel(H, 'je-y-axis-title', 552, 580, [["J*E' [nW m"], ['-3', 'sup'], [']']]);
leg(p, 'legend-je', 583, 559, '#000', "J*E'", '');
// middle x axis
xTickTimes.forEach((t, i) => {
  mk('text', H, 'x-tick-label', {x: xM(t).toFixed(1), y: 626.5, 'font-size': 9.5, 'text-anchor': 'middle'}, xTickLabels[i]);
  mk('text', H, 'pos-x-value', {x: xM(t).toFixed(1), y: 646.5, 'font-size': 9.5, 'text-anchor': 'middle'}, posX[i]);
  mk('text', H, 'pos-y-value', {x: xM(t).toFixed(1), y: 661.5, 'font-size': 9.5, 'text-anchor': 'middle'}, posY[i]);
  mk('text', H, 'pos-z-value', {x: xM(t).toFixed(1), y: 676.5, 'font-size': 9.5, 'text-anchor': 'middle'}, posZ[i]);
});
[['X', 646.5], ['Y', 661.5], ['Z', 676.5]].forEach(r => {
  mk('text', H, 'pos-row-label', {x: 559, y: r[1], 'font-size': 9.5}, r[0]);
  mk('text', H, 'pos-row-unit', {x: 983, y: r[1], 'font-size': 9.5}, 'Re');
});
mk('text', H, 'mid-footer', {x: 885, y: 725, 'font-size': 9.3}, 'paschmann 25-Oct-2018 15:03');

// ================= INFO TEXT =================
const I = document.getElementById('info');
const SEP = ' '.repeat(18) + ':';
const row = (l, v) => l.padEnd(18) + ': ' + v;
const infoLines = [
  ':',
  row(' Event ID', '20160219_235324'),
  row(' FlagStr', 'ot,udef,mon,mf,mult,compl,keep'),
  row(' GSEpos [Re]', '[ 4.28, -10.81, -1.12 ]'),
  SEP,
  row(' LMN coords', ''),
  row('    L', '[  0.108, -0.614,  0.782 ]'),
  row('    M', '[ -0.446,  0.673,  0.590 ]'),
  row('    N', '[  0.889,  0.412,  0.201 ]'),
  SEP,
  row('  Times', '(as indicated by red, green lines in plots)'),
  row('    t_0', '23:53:57  (red dotted line)'),
  row('    t_MVAB1', '23:53:49  (leftmost green line)'),
  row('    t_MVAB2', '23:54:04  (rightmost green line)'),
  SEP,
  row('|Bmin|, |Vmax|', ''),
  row('    Bmin', '35.64 [nT]  at 23:54:34'),
  row('    Vmax_tht', '283.74 [km/s]  at 23:53:56'),
  row('    Vmax_tburst', '307.05 [km/s]  at 23:54:46'),
  SEP,
  row(' Normals', ''),
  row('    N MVAB', '[  0.920,  0.390, -0.038 ]   (L2/L1 = 28.82)'),
  row('    N MVAB0', '[  0.672,  0.725,  0.150 ]   (L3/L2 = 10.98)'),
  row('    N MFR', '[  0.929,  0.369, -0.027 ]   (L2/L1 = 12.89)'),
  SEP,
  row(' Durations [s]', '(between red, resp green lines)'),
  row('    T_CS', '7.32'),
  row('    T_MFR/HT', '14.64'),
  SEP,
  row(' Velocity [km/s]', '(based on FPI ion data)'),
  row('    VnMFR', '-224.1'),
  row('    VHT.Nmvab', '224.8  (HTcc = 0.991)'),
  row('    VHT.Nmvab0', '230.8'),
  SEP,
  ' CS thickness [km]: (D=T_CS * Vs from above)',
  row('    D1=TCS*Vnmfr', '1,640'),
  row('    D2=TCS*VHTn', '1,645'),
  row('    D3=TCS*VHTn0', '1,690'),
  SEP,
  row(' Currents [uA/m2]', ''),
  row('    Jave_CS', '0.047'),
  row('    Jmax_THT', '0.395  at 23:53:54'),
  row('    Jmax_brst', '0.525  at 23:54:48'),
  SEP,
  row(' HPCA mom [1/cm3]', ' Min    - Max     ( Ave   )  within full brst int'),
  row('    H+', ' 15.426 - 22.846  ( 22.521 )'),
  row('    He+', '  0.000 -  0.004  (  0.004 )'),
  row('    He++', '  0.476 -  0.914  (  0.737 )'),
  row('    O+', '  0.000 -  0.007  (  0.000 )'),
  SEP,
  row(' SEH date', '2019-11-29 09:48:49'),
  SEP
];
infoLines.forEach((s, i) => {
  mk('text', I, 'info-line', {x: 1061, y: (15.9 + 13.06 * i).toFixed(1), 'font-size': 11, 'font-family': "'DejaVu Sans Mono', 'Liberation Mono', monospace", style: 'white-space:pre', 'xml:space': 'preserve'}, s);
});
</script>
</body></html>
